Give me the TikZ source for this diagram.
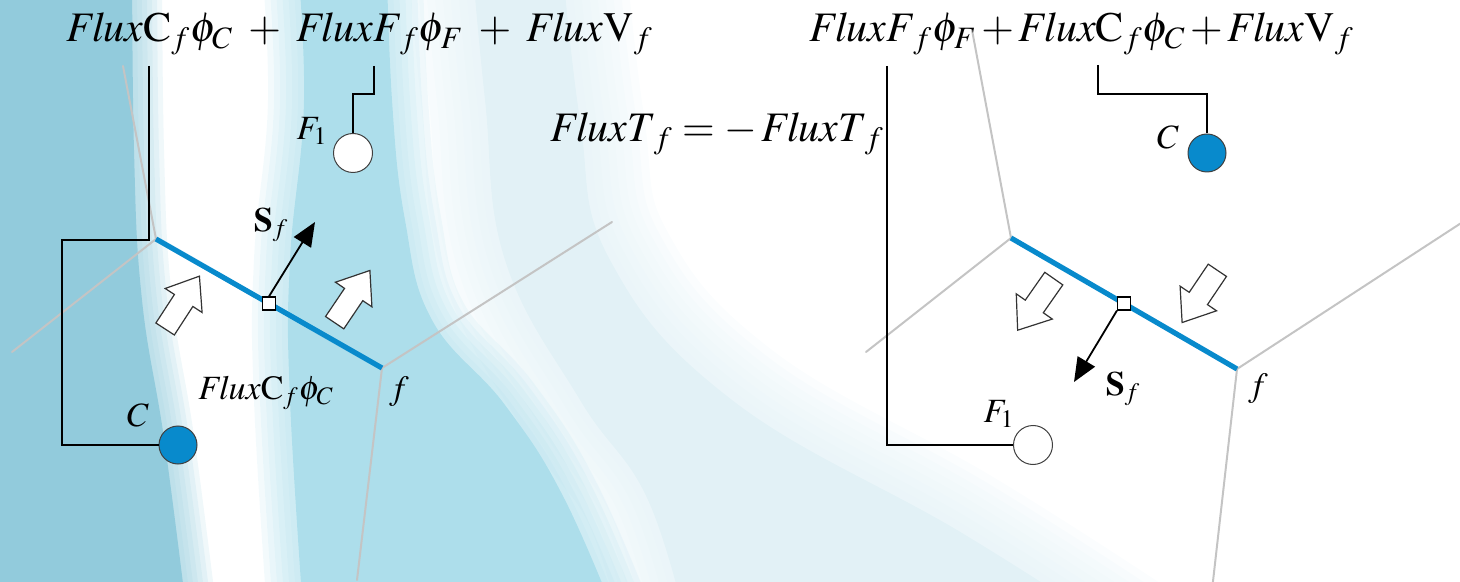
\documentclass[tikz,border=0pt]{standalone}
\usepackage{mathptmx}
\usepackage{fontspec}
\setmainfont{Liberation Serif}
\usetikzlibrary{arrows.meta,positioning,calc}
\definecolor{faceblue}{RGB}{8,138,204}
\definecolor{meshgray}{RGB}{196,196,196}
\definecolor{bgdeep}{RGB}{146,203,220}
\definecolor{bglight}{RGB}{173,222,235}
\definecolor{bgfaint}{RGB}{226,241,246}
\tikzset{
  % grid lines of the mesh and the shared face
  meshln/.style={line width=1pt, meshgray, line cap=round},
  faceln/.style={line width=2.6pt, faceblue},
  % connectors from the terms down to the cells
  link/.style={line width=1pt, black},
  % cell centroids
  cellC/.style={circle, draw=black!75, fill=faceblue, line width=0.5pt,
    minimum size=19pt, inner sep=0pt},
  cellF/.style={circle, draw=black!75, fill=white, line width=0.5pt,
    minimum size=19.5pt, inner sep=0pt},
  facept/.style={rectangle, draw=black, fill=white, line width=0.6pt,
    minimum size=6.5pt, inner sep=0pt},
  surfvec/.style={-{Triangle[length=12pt,width=10pt]}, line width=0.9pt},
  hollow/.style={draw=black!80, fill=white, line width=0.6pt, line join=miter},
  eqn/.style={font=\fontsize{21}{25}\selectfont, inner sep=0pt},
  lbl/.style={font=\fontsize{17}{20}\selectfont, inner sep=0pt},
  softedge/.style={line width=#1, draw opacity=0.14, line join=round},
}
% block arrow pointing along +x, centred on the origin
\def\hollowpath{(-31,-11) -- (3,-11) -- (3,-22) -- (32,0) -- (3,22) -- (3,11) -- (-31,11) -- cycle}
% background swooshes
\def\bgdeeppath{(-60,-60) -- plot[smooth, tension=0.7] coordinates
  {(132,-60) (134,150) (142,300) (165,445) (190,640)} -- (-60,640) -- cycle}
\def\bglightpath{plot[smooth, tension=0.7] coordinates
  {(296,-60) (304,100) (290,260) (290,400) (305,640)} --
  plot[smooth, tension=0.7] coordinates
  {(625,640) (565,500) (505,405) (432,320) (405,220) (392,100) (386,-60)} -- cycle}
\def\bgfaintpath{plot[smooth, tension=0.7] coordinates
  {(470,-60) (485,100) (505,260) (580,400) (648,500) (690,640)} --
  plot[smooth, tension=0.7] coordinates
  {(1130,640) (962,533) (732,400) (610,260) (580,120) (560,-60)} -- cycle}
\begin{document}
\begin{tikzpicture}[x=0.5pt, y=-0.5pt]
    \useasboundingbox (0,0) rectangle (1460,582);
    % background
    \fill[bgfaint] \bgfaintpath;
    \foreach \w in {8,16,...,64} {\draw[bgfaint, softedge=\w] \bgfaintpath;}
    \fill[bglight] \bglightpath;
    \foreach \w in {6,12,...,36} {\draw[bglight, softedge=\w] \bglightpath;}
    \fill[bgdeep] \bgdeeppath;
    \foreach \w in {5,10,...,30} {\draw[bgdeep, softedge=\w] \bgdeeppath;}

    % ---- left: flux seen from cell C ----
    \coordinate (vL1) at (156,239);
    \coordinate (vL2) at (382,368);
    \draw[meshln] (vL1) -- (123,66);
    \draw[meshln] (vL1) -- (12,352);
    \draw[meshln] (vL2) -- (612,222);
    \draw[meshln] (vL2) -- (357,580);
    \draw[faceln] (vL1) -- (vL2);
    \node[facept] (ptL) at ($(vL1)!0.5!(vL2)$) {};
    \coordinate (tipL) at (315,222);
    \draw[surfvec] (ptL.north) -- (tipL);
    \node[lbl] (sfL) at (271,225) {$\mathbf{S}_f$};
    \begin{scope}[shift={(182,303)}, rotate=57]
      \draw[hollow] \hollowpath;
    \end{scope}
    \begin{scope}[shift={(352,297)}, rotate=56]
      \draw[hollow] \hollowpath;
    \end{scope}
    \node[lbl] (fL) at (399,392) {$f$};
    \node[lbl] (fluxL) at (266,393) {$\mathit{Flux}\mathrm{C}_f\phi_C$};

    \node[cellF] (F1L) at (353,153) {};
    \node[lbl] (F1Llbl) at (312,131) {$F_1$};
    \node[cellC] (CL) at (178,445) {};
    \node[lbl] (CLlbl) at (138,415) {$C$};

    \node[eqn, anchor=base west] (eqL) at (66,42)
      {$\mathit{Flux}\mathrm{C}_f\phi_C\;+\;\mathit{FluxF}_f\phi_F\;+\;\mathit{Flux}\mathrm{V}_f$};
    \coordinate (tapLC) at (149,66);
    \coordinate (tapLF) at (374,66);
    \draw[link] (tapLC) |- (62,240) |- (CL.west);
    \draw[link] (tapLF) -- ++(0,28) -| (F1L.north);

    % ---- middle ----
    \node[eqn, anchor=base west] (eqT) at (550,142)
      {$\medmuskip=2mu\thickmuskip=4mu\mathit{FluxT}_f=-\,\mathit{FluxT}_f$};

    % ---- right: flux seen from cell F ----
    \coordinate (vR1) at (1011,238);
    \coordinate (vR2) at (1237,369);
    \draw[meshln] (vR1) -- (972,30);
    \draw[meshln] (vR1) -- (866,352);
    \draw[meshln] (vR2) -- (1475,214);
    \draw[meshln] (vR2) -- (1212,590);
    \draw[faceln] (vR1) -- (vR2);
    \node[facept] (ptR) at ($(vR1)!0.5!(vR2)$) {};
    \coordinate (tipR) at (1074,382);
    \draw[surfvec] (ptR.south west) -- (tipR);
    \node[lbl] (sfR) at (1123,389) {$\mathbf{S}_f$};
    \begin{scope}[shift={(1036,304)}, rotate=235]
      \draw[hollow] \hollowpath;
    \end{scope}
    \begin{scope}[shift={(1200,296)}, rotate=236]
      \draw[hollow] \hollowpath;
    \end{scope}
    \node[lbl] (fR) at (1258,389) {$f$};

    \node[cellC] (CR) at (1207,153) {};
    \node[lbl] (CRlbl) at (1168,137) {$C$};
    \node[cellF] (F1R) at (1033,445) {};
    \node[lbl] (F1Rlbl) at (999,414) {$F_1$};

    \node[eqn, anchor=base west] (eqR) at (809,42)
      {$\medmuskip=2mu\mathit{FluxF}_f\phi_F+\mathit{Flux}\mathrm{C}_f\phi_C+\mathit{Flux}\mathrm{V}_f$};
    \coordinate (tapRF) at (887,66);
    \coordinate (tapRC) at (1098,65);
    \draw[link] (tapRF) |- (F1R.west);
    \draw[link] (tapRC) -- ++(0,29) -| (CR.north);
\end{tikzpicture}
\end{document}
